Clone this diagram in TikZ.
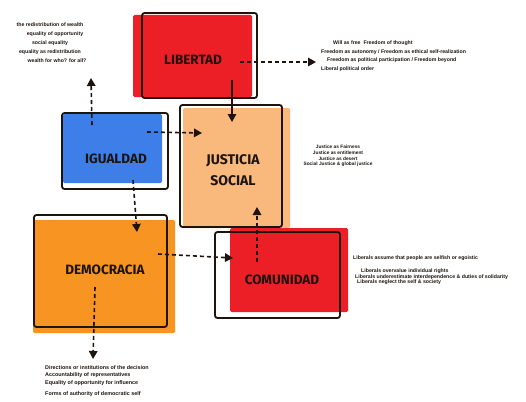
\documentclass[tikz,border=0pt]{standalone}
\usepackage{fontspec}
\setmainfont{Liberation Sans}
\newfontfamily\handfont{Fira Sans}
\usetikzlibrary{arrows.meta}
\definecolor{cred}{RGB}{236,30,38}
\definecolor{cblue}{RGB}{62,126,232}
\definecolor{cpeach}{RGB}{249,184,124}
\definecolor{corange}{RGB}{247,148,34}
\definecolor{cink}{RGB}{30,20,14}
\tikzset{
  fillbox/.style={draw=none, rectangle, rounded corners=1.5pt, inner sep=0pt},
  outbox/.style={draw=cink, line width=1.8pt, rectangle, rounded corners=2.5pt, inner sep=0pt, fill=none},
  lbl/.style={font=\handfont\bfseries\fontsize{13.5}{15}\selectfont, text=cink, align=center, inner sep=0pt},
  note/.style={text=cink, inner sep=0pt},
  darr/.style={draw=cink, line width=1.6pt, dash pattern=on 4pt off 3pt, -{Triangle[length=8pt,width=8.5pt]}},
  sarr/.style={draw=cink, line width=1.4pt, -{Triangle[length=8pt,width=8.5pt]}}
}
\begin{document}
\begin{tikzpicture}[x=1pt,y=-1pt]
\useasboundingbox (0,0) rectangle (526,401);
\fill[white] (0,0) rectangle (526,401);
% fills
\node[fillbox, fill=cred, minimum width=119pt, minimum height=82pt] (libF) at (192.5,56) {};
\node[fillbox, fill=cblue, minimum width=99pt, minimum height=69pt] (iguF) at (112.5,148.5) {};
\node[fillbox, fill=cpeach, minimum width=107pt, minimum height=120pt] (jusF) at (236.5,168) {};
\node[fillbox, fill=corange, minimum width=142pt, minimum height=113pt] (demF) at (104,276.5) {};
\node[fillbox, fill=cred, minimum width=118pt, minimum height=84pt] (comF) at (289,270) {};
% outlines
\node[outbox, minimum width=115pt, minimum height=85pt] (libO) at (199.5,55.5) {};
\node[outbox, minimum width=106pt, minimum height=76pt] (iguO) at (115,151) {};
\node[outbox, minimum width=102pt, minimum height=122pt] (jusO) at (231,166) {};
\node[outbox, minimum width=133pt, minimum height=112pt] (demO) at (100.5,271) {};
\node[outbox, minimum width=125pt, minimum height=86pt] (comO) at (277.5,275) {};
% labels
\node[lbl] (lib) at (193,60) {LIBERTAD};
\node[lbl] (igu) at (116,159) {IGUALDAD};
\node[lbl, font=\handfont\bfseries\fontsize{14}{21}\selectfont] (jus) at (233,170) {JUSTICIA\\SOCIAL};
\node[lbl] (dem) at (105,270) {DEMOCRACIA};
\node[lbl] (com) at (282,280) {COMUNIDAD};
% notes
\node[note, align=center, font=\bfseries\fontsize{5.2}{9}\selectfont] (nIgu) at (50,43) {the redistribution of wealth\\
\hspace*{10pt}equality of opportunity\\ social equality\\ equality as redistribution\\ \hspace*{14pt}wealth for who? for all?};
\node[note, align=left, font=\bfseries\fontsize{5.2}{8.5}\selectfont, anchor=west] (nLib) at (321,56) {\hspace*{12pt}Will as free \ Freedom of thought\\
Freedom as autonomy / Freedom as ethical self-realization\\
\hspace*{6pt}Freedom as political participation / Freedom beyond\\
Liberal political order};
\node[note, align=center, font=\bfseries\fontsize{4.8}{5.8}\selectfont] (nJus) at (338,156) {Justice as Fairness\\ Justice as entitlement\\ Justice as desert\\ Social Justice \& global justice};
\node[note, align=left, font=\bfseries\fontsize{5.2}{5.6}\selectfont, anchor=north west] (nCom) at (353,256) {Liberals assume that people are selfish or egoistic\\[7pt]
\hspace*{8pt}Liberals overvalue individual rights\\
\hspace*{2pt}Liberals underestimate interdependence \& duties of solidarity\\
\hspace*{4pt}Liberals neglect the self \& society};
\node[note, align=left, font=\bfseries\fontsize{5.4}{7.5}\selectfont, anchor=north west] (nDem) at (45,365) {Directions or institutions of the decision\\
Accountability of representatives\\
Equality of opportunity for influence\\[4pt]
Forms of authority of democratic self};
% connector anchors
\coordinate (a1s) at (232,80);  \coordinate (a1e) at (232,122);
\coordinate (a2s) at (240,62);  \coordinate (a2e) at (316,62);
\coordinate (a3s) at (147,132); \coordinate (a3e) at (202,133);
\coordinate (a4s) at (92,125);  \coordinate (a4e) at (91,78);
\coordinate (a5s) at (133,180); \coordinate (a5e) at (137,232);
\coordinate (a6s) at (158,254); \coordinate (a6e) at (233,258);
\coordinate (a7s) at (257,262); \coordinate (a7e) at (257,207);
\coordinate (a8s) at (95,287);  \coordinate (a8e) at (93,359);
\draw[sarr] (a1s) -- (a1e);
\draw[darr] (a2s) -- (a2e);
\draw[darr] (a3s) -- (a3e);
\draw[darr] (a4s) -- (a4e);
\draw[darr] (a5s) -- (a5e);
\draw[darr] (a6s) -- (a6e);
\draw[darr] (a7s) -- (a7e);
\draw[darr] (a8s) -- (a8e);
\end{tikzpicture}
\end{document}
